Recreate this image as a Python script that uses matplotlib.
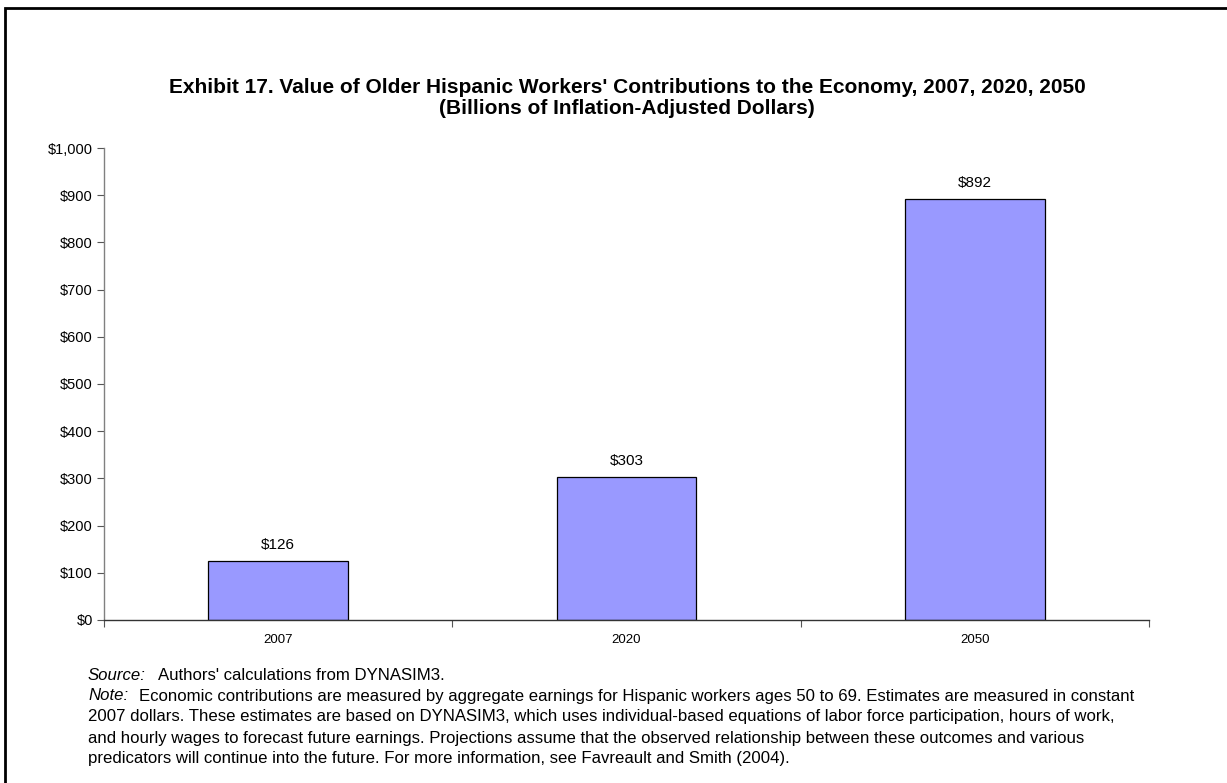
import matplotlib.pyplot as plt
import numpy as np
from matplotlib.patches import Rectangle

plt.rcParams['font.family'] = ['Liberation Sans', 'DejaVu Sans']

years = ['2007', '2020', '2050']
values = np.array([126, 303, 892])
yticks = np.arange(0, 1001, 100)

fig = plt.figure(figsize=(12.27, 7.83), dpi=100)
ax = fig.add_axes([104 / 1227, 1 - 620 / 783, (1149 - 104) / 1227, (620 - 148) / 783])

x = np.arange(len(years))
bars = ax.bar(x, values, width=0.4, color='#9999FF', edgecolor='black', linewidth=0.9)
for b, v in zip(bars, values):
    ax.text(b.get_x() + b.get_width() / 2, v + 18, f'${v}', ha='center', va='bottom', fontsize=11)

ax.set_xlim(-0.5, len(years) - 0.5)
ax.set_ylim(0, 1000)
ax.set_yticks(yticks)
ax.set_yticklabels([f'${v:,}' for v in yticks], fontsize=10.5)
ax.tick_params(axis='y', direction='out', length=5, width=0.8, color='#555555', pad=3)

# category labels centered, tick marks between categories
ax.set_xticks(x)
ax.set_xticklabels(years, fontsize=9.5)
ax.tick_params(axis='x', length=0, pad=10)
ax.set_xticks(np.arange(-0.5, len(years)), minor=True)
ax.tick_params(axis='x', which='minor', direction='out', length=5, width=0.8, color='#555555')

for s in ['top', 'right']:
    ax.spines[s].set_visible(False)
ax.spines['left'].set_color('#808080')
ax.spines['left'].set_linewidth(1.0)
ax.spines['bottom'].set_color('#333333')
ax.spines['bottom'].set_linewidth(1.0)

fig.text(627 / 1227, 1 - 98 / 783,
         "Exhibit 17. Value of Older Hispanic Workers' Contributions to the Economy, 2007, 2020, 2050\n"
         "(Billions of Inflation-Adjusted Dollars)",
         ha='center', va='center', fontsize=15, fontweight='bold', linespacing=1.08)

# source and notes below the chart
lx = 88 / 1227
fs = 12.1
fig.text(lx, 1 - 675 / 783, 'Source:', fontsize=fs, style='italic', va='center')
fig.text(lx + 70 / 1227, 1 - 675 / 783, "Authors' calculations from DYNASIM3.", fontsize=fs, va='center')
fig.text(lx, 1 - 696 / 783, 'Note:', fontsize=fs, style='italic', va='center')
fig.text(lx + 51 / 1227, 1 - 696 / 783,
         'Economic contributions are measured by aggregate earnings for Hispanic workers ages 50 to 69. '
         'Estimates are measured in constant', fontsize=fs, va='center')
notes = [
    '2007 dollars. These estimates are based on DYNASIM3, which uses individual-based equations of labor force participation, hours of work,',
    'and hourly wages to forecast future earnings. Projections assume that the observed relationship between these outcomes and various',
    'predicators will continue into the future. For more information, see Favreault and Smith (2004).',
]
for i, line in enumerate(notes):
    fig.text(lx, 1 - (717 + 21 * i) / 783, line, fontsize=fs, va='center')

# outer frame
fig.patches.append(Rectangle((5 / 1227, -0.05), 1.2, 1 - 8 / 783 + 0.05, transform=fig.transFigure,
                             fill=False, edgecolor='black', linewidth=2))

fig.savefig('out.png', dpi=100)
